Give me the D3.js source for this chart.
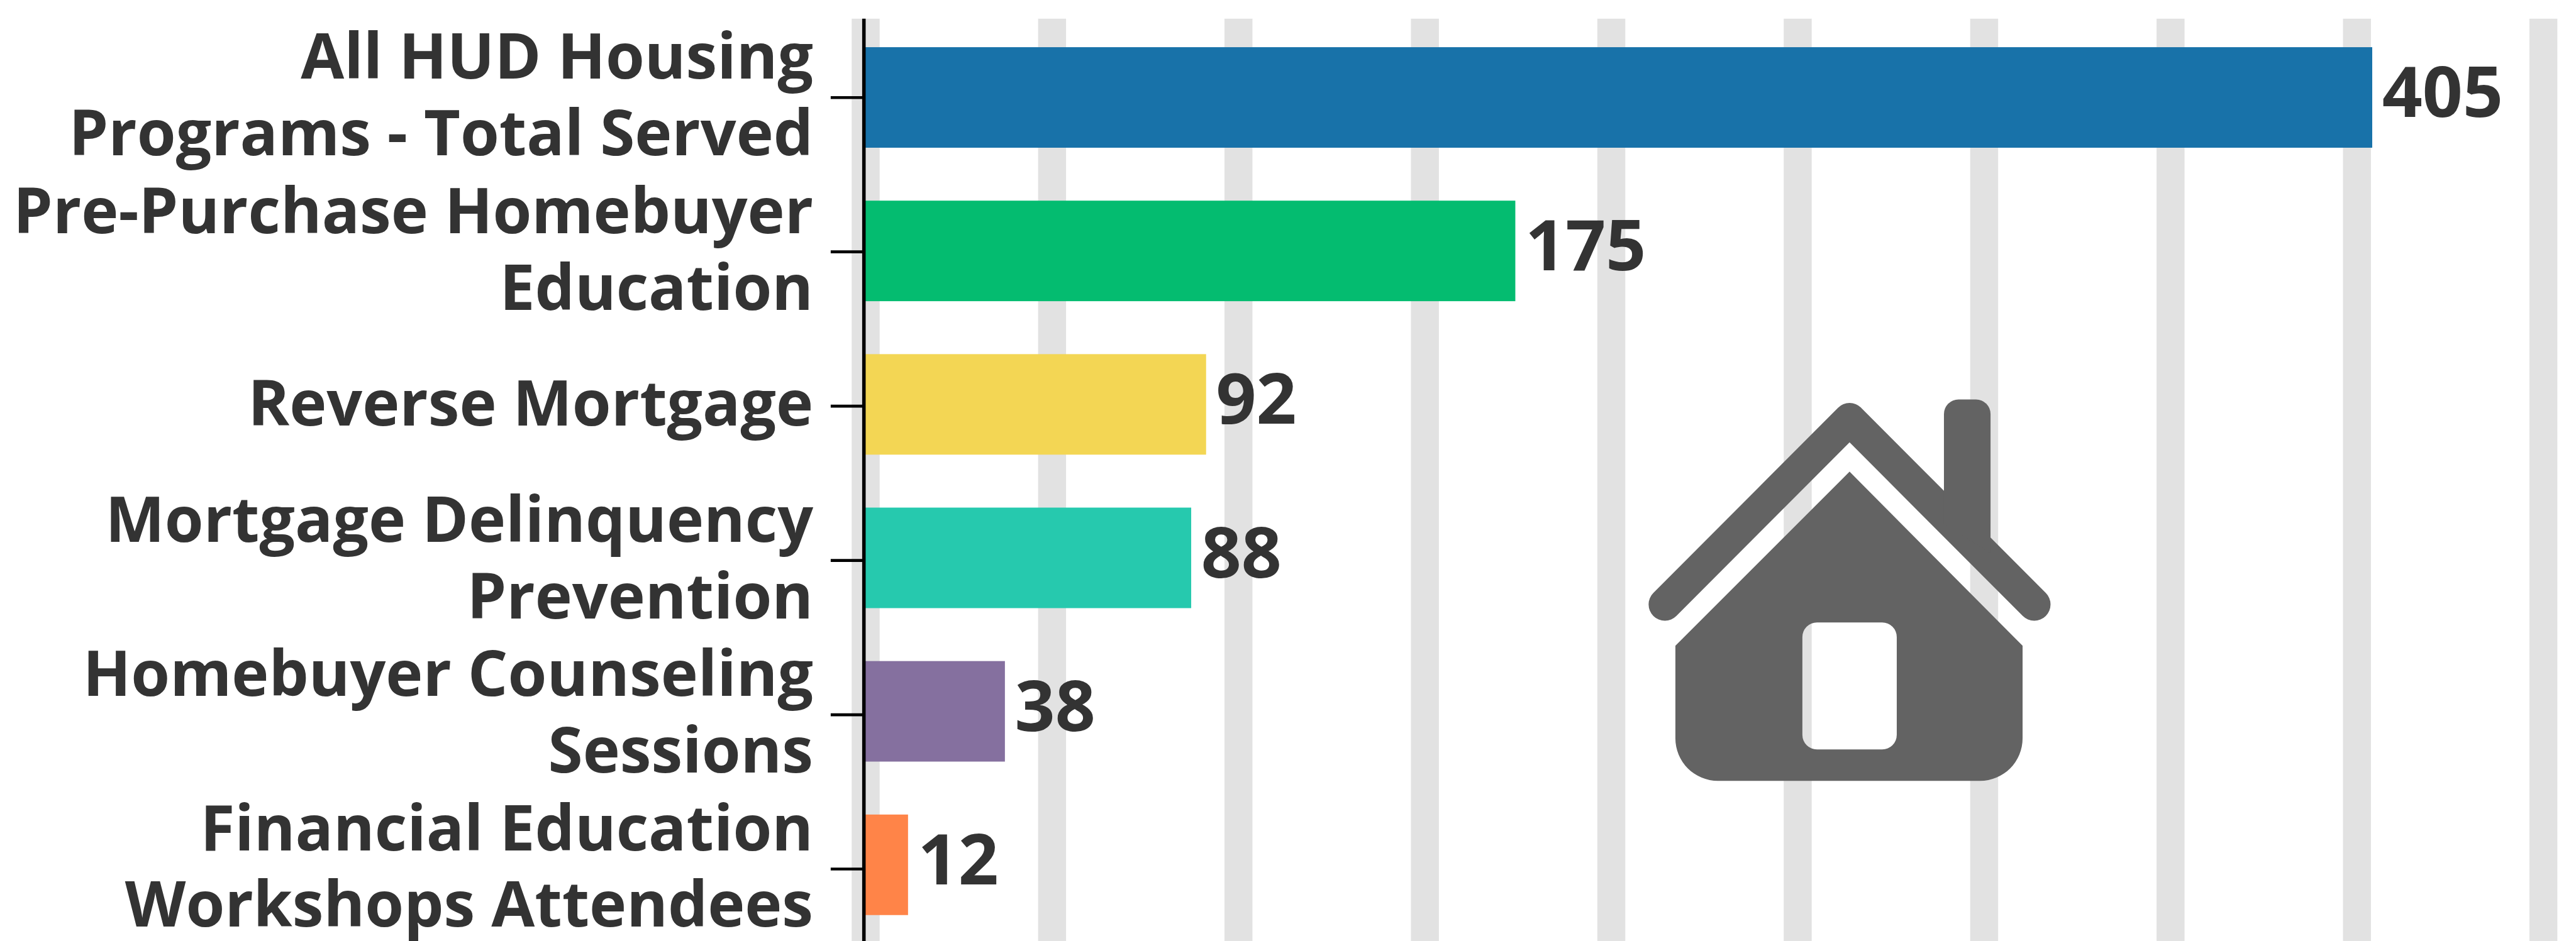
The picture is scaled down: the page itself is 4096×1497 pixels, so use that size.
<!DOCTYPE html>
<html lang="en">
<head>
    <meta charset="UTF-8">
    <script src="https://cdnjs.cloudflare.com/ajax/libs/d3/7.8.5/d3.min.js"></script>
    <style>
        html, body { margin: 0; padding: 0; background: #fff; }
        svg { display: block; }
        text { font-family: "Open Sans", sans-serif; font-weight: 700; fill: #333; }
    </style>
</head>
<body>
    <svg id="chart" width="4096" height="1497" viewBox="0 0 4422 1616"></svg>
    <script>
        const categories = ['All HUD Housing Programs - Total Served', 'Pre-Purchase Homebuyer Education',
            'Reverse Mortgage', 'Mortgage Delinquency Prevention', 'Homebuyer Counseling Sessions',
            'Financial Education Workshops Attendees'];
        const labelLines = [['All HUD Housing', 'Programs - Total Served'], ['Pre-Purchase Homebuyer', 'Education'],
            ['Reverse Mortgage'], ['Mortgage Delinquency', 'Prevention'], ['Homebuyer Counseling', 'Sessions'],
            ['Financial Education', 'Workshops Attendees']];
        const values = [405, 175, 92, 88, 38, 12];
        const barColors = ['#1872a9', '#04bc70', '#f3d654', '#26c9ae', '#85709f', '#ff8448'];
        const gridValues = [0, 50, 100, 150, 200, 250, 300, 350, 400, 450];

        const svg = d3.select('#chart');

        const x = d3.scaleLinear().domain([0, 450]).range([1482, 4360]);
        const gridX = d3.scaleLinear().domain([0, 450]).range([1486, 4366]);
        const y = d3.scaleBand().domain(categories).range([35.5, 1617])
            .paddingInner(0.345).paddingOuter(0.1725);
        // ticks and labels run on a slightly wider step than the bars in the picture
        const tickY = d3.scalePoint().domain(categories).range([167, 1492]);

        // grid bands
        svg.append('g').selectAll('rect')
            .data(gridValues)
            .enter()
            .append('rect')
            .attr('x', d => gridX(d) - 24)
            .attr('y', 32)
            .attr('width', 48)
            .attr('height', 1584)
            .style('fill', '#e2e2e2');

        // house icon, door is a hole so the grid shows through
        const house = svg.append('g').style('fill', '#636363');
        house.append('path')
            .attr('d', 'M2858 1038L3175 720L3492 1038')
            .style('fill', 'none')
            .style('stroke', '#636363')
            .style('stroke-width', 56)
            .style('stroke-linecap', 'round')
            .style('stroke-linejoin', 'round');
        house.append('path')
            .attr('d', 'M3337 842V711A25 25 0 0 1 3362 686H3392A25 25 0 0 1 3417 711V950L3337 900Z');
        house.append('path')
            .attr('fill-rule', 'evenodd')
            .attr('d', 'M3175 810L3472 1109V1268A73 73 0 0 1 3399 1341H2949A73 73 0 0 1 2876 1268V1109Z' +
                'M3119 1069A25 25 0 0 0 3094 1094V1262A25 25 0 0 0 3119 1287H3231A25 25 0 0 0 3256 1262V1094A25 25 0 0 0 3231 1069Z');

        // bars
        svg.append('g').selectAll('rect')
            .data(values)
            .enter()
            .append('rect')
            .attr('x', x(0))
            .attr('y', (d, i) => y(categories[i]))
            .attr('width', d => x(d) - x(0))
            .attr('height', y.bandwidth())
            .style('fill', (d, i) => barColors[i]);

        // axis
        const axis = svg.append('g')
            .attr('transform', 'translate(1483, 0)')
            .call(d3.axisLeft(tickY).tickSize(57).tickFormat(''));
        axis.select('.domain').attr('d', 'M0 32V1616').style('stroke', '#000').style('stroke-width', 6);
        axis.selectAll('.tick line').style('stroke', '#000').style('stroke-width', 5);

        // value labels
        svg.append('g').selectAll('text')
            .data(values)
            .enter()
            .append('text')
            .attr('x', d => x(d) + 17)
            .attr('y', (d, i) => y(categories[i]) + y.bandwidth() / 2 + 33.5)
            .style('font-size', '121px')
            .text(d => d);

        // category labels
        const labels = svg.append('g').selectAll('text')
            .data(labelLines)
            .enter()
            .append('text')
            .attr('text-anchor', 'end')
            .style('font-size', '108px');
        labels.selectAll('tspan')
            .data((d, i) => d.map((line, j) => ({ line, i, j, n: d.length })))
            .enter()
            .append('tspan')
            .attr('x', 1396)
            .attr('y', d => tickY(categories[d.i]) + 34 + (d.j - (d.n - 1) / 2) * 131.5)
            .text(d => d.line);
    </script>
</body>
</html>
